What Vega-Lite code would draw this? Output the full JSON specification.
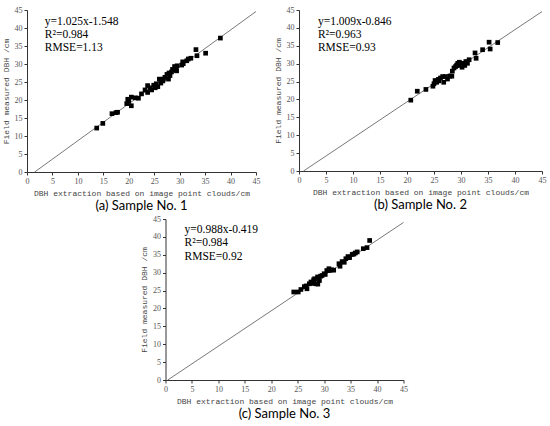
{
  "$schema": "https://vega.github.io/schema/vega-lite/v6.json",
  "padding": {"left": 2, "top": 6, "right": 4, "bottom": 0},
  "background": "white",
  "datasets": {
    "pts": [
      {"s":"a","x":13.7,"y":12.2},{"s":"a","x":14.9,"y":13.5},{"s":"a","x":16.7,"y":16.2},{"s":"a","x":17.5,"y":16.5},{"s":"a","x":17.8,"y":16.6},
      {"s":"a","x":19.6,"y":19.0},{"s":"a","x":19.8,"y":20.2},{"s":"a","x":20.5,"y":18.4},{"s":"a","x":20.5,"y":20.8},{"s":"a","x":21.3,"y":20.6},
      {"s":"a","x":21.9,"y":20.5},{"s":"a","x":22.5,"y":21.7},{"s":"a","x":23.2,"y":22.8},{"s":"a","x":23.7,"y":22.1},{"s":"a","x":23.7,"y":24.0},
      {"s":"a","x":24.2,"y":23.4},{"s":"a","x":24.5,"y":22.8},{"s":"a","x":24.9,"y":24.1},{"s":"a","x":25.2,"y":23.4},{"s":"a","x":25.4,"y":24.5},
      {"s":"a","x":25.7,"y":23.7},{"s":"a","x":26.0,"y":25.8},{"s":"a","x":26.3,"y":24.7},{"s":"a","x":26.7,"y":25.3},{"s":"a","x":27.1,"y":26.3},
      {"s":"a","x":27.5,"y":27.1},{"s":"a","x":27.8,"y":25.8},{"s":"a","x":27.9,"y":27.5},{"s":"a","x":28.4,"y":27.8},{"s":"a","x":28.6,"y":28.5},
      {"s":"a","x":29.0,"y":29.3},{"s":"a","x":29.1,"y":28.3},{"s":"a","x":29.3,"y":28.8},{"s":"a","x":29.5,"y":29.5},{"s":"a","x":30.4,"y":29.7},
      {"s":"a","x":30.6,"y":30.6},{"s":"a","x":31.4,"y":30.9},{"s":"a","x":31.7,"y":31.4},{"s":"a","x":32.2,"y":31.6},{"s":"a","x":33.2,"y":34.0},
      {"s":"a","x":33.4,"y":32.3},{"s":"a","x":35.1,"y":33.0},{"s":"a","x":38.0,"y":37.2},{"s":"a","x":26.8,"y":25.8},{"s":"a","x":28.1,"y":26.8},
      {"s":"a","x":29.4,"y":28.1},{"s":"a","x":30.7,"y":30.1},{"s":"a","x":20.0,"y":19.6},
      {"s":"b","x":20.7,"y":19.8},{"s":"b","x":21.9,"y":22.3},{"s":"b","x":23.5,"y":22.8},{"s":"b","x":24.8,"y":23.7},{"s":"b","x":25.0,"y":24.4},
      {"s":"b","x":25.2,"y":25.3},{"s":"b","x":25.5,"y":24.8},{"s":"b","x":25.8,"y":25.6},{"s":"b","x":26.2,"y":26.0},{"s":"b","x":26.6,"y":26.4},
      {"s":"b","x":26.8,"y":24.8},{"s":"b","x":27.1,"y":26.4},{"s":"b","x":27.5,"y":25.7},{"s":"b","x":27.9,"y":26.5},{"s":"b","x":28.3,"y":26.5},
      {"s":"b","x":28.4,"y":27.9},{"s":"b","x":28.7,"y":28.8},{"s":"b","x":29.0,"y":29.2},{"s":"b","x":29.4,"y":30.1},{"s":"b","x":29.7,"y":30.4},
      {"s":"b","x":29.8,"y":29.5},{"s":"b","x":30.2,"y":29.0},{"s":"b","x":30.4,"y":30.1},{"s":"b","x":30.7,"y":29.5},{"s":"b","x":30.9,"y":30.6},
      {"s":"b","x":31.2,"y":30.1},{"s":"b","x":31.5,"y":31.1},{"s":"b","x":32.6,"y":33.0},{"s":"b","x":32.8,"y":31.5},{"s":"b","x":34.0,"y":33.9},
      {"s":"b","x":35.2,"y":36.0},{"s":"b","x":35.4,"y":34.1},{"s":"b","x":36.8,"y":35.9},{"s":"b","x":25.9,"y":25.2},{"s":"b","x":29.2,"y":29.6},
      {"s":"c","x":24.25,"y":24.6},{"s":"c","x":25.1,"y":24.6},{"s":"c","x":25.6,"y":25.3},{"s":"c","x":26.25,"y":26.1},{"s":"c","x":26.75,"y":25.5},
      {"s":"c","x":27.2,"y":26.9},{"s":"c","x":27.5,"y":27.4},{"s":"c","x":28.0,"y":28.0},{"s":"c","x":28.4,"y":26.9},{"s":"c","x":28.75,"y":28.8},
      {"s":"c","x":29.1,"y":27.8},{"s":"c","x":29.6,"y":29.2},{"s":"c","x":30.0,"y":29.7},{"s":"c","x":30.5,"y":30.6},{"s":"c","x":30.9,"y":31.1},
      {"s":"c","x":31.4,"y":30.8},{"s":"c","x":32.8,"y":32.5},{"s":"c","x":33.4,"y":33.1},{"s":"c","x":34.1,"y":33.9},{"s":"c","x":34.5,"y":34.5},
      {"s":"c","x":35.3,"y":35.1},{"s":"c","x":35.9,"y":35.5},{"s":"c","x":36.25,"y":35.8},{"s":"c","x":37.4,"y":36.7},{"s":"c","x":38.1,"y":37.0},
      {"s":"c","x":38.6,"y":39.0},{"s":"c","x":28.2,"y":28.3},{"s":"c","x":29.3,"y":29.0},{"s":"c","x":30.2,"y":29.5},{"s":"c","x":31.0,"y":30.6},
      {"s":"c","x":31.8,"y":30.7},{"s":"c","x":33.0,"y":31.8},{"s":"c","x":33.8,"y":32.9},{"s":"c","x":34.8,"y":34.2},{"s":"c","x":35.6,"y":35.2},
      {"s":"c","x":26.6,"y":26.3},{"s":"c","x":27.8,"y":27.0},{"s":"c","x":28.8,"y":26.8}
    ],
    "fit": [
      {"s":"a","x":1.51,"y":0},{"s":"a","x":45,"y":44.58},
      {"s":"b","x":0.84,"y":0},{"s":"b","x":45,"y":44.56},
      {"s":"c","x":0.42,"y":0},{"s":"c","x":45,"y":44.04}
    ],
    "ann": [
      {"s":"a","x":3.5,"y":41.6,"t":"y=1.025x-1.548"},{"s":"a","x":3.5,"y":38.0,"t":"R²=0.984"},{"s":"a","x":3.5,"y":34.5,"t":"RMSE=1.13"},
      {"s":"b","x":3.5,"y":41.6,"t":"y=1.009x-0.846"},{"s":"b","x":3.5,"y":38.0,"t":"R²=0.963"},{"s":"b","x":3.5,"y":34.5,"t":"RMSE=0.93"},
      {"s":"c","x":3.6,"y":41.9,"t":"y=0.988x-0.419"},{"s":"c","x":3.6,"y":38.2,"t":"R²=0.984"},{"s":"c","x":3.6,"y":34.4,"t":"RMSE=0.92"}
    ]
  },
  "config": {
    "view": {"stroke": null},
    "axis": {
      "grid": false, "domainColor": "#333", "tickColor": "#333", "tickSize": 3,
      "labelFont": "Liberation Serif", "labelFontSize": 8, "labelColor": "#555", "labelPadding": 2,
      "labelOverlap": false, "labelBound": false, "labelFlush": false,
      "titleFont": "Liberation Mono", "titleFontSize": 8, "titleFontWeight": "normal", "titleColor": "#444", "titlePadding": 4
    },
    "title": {"font": "Lato", "fontSize": 13, "fontWeight": "normal", "color": "black", "orient": "bottom", "offset": 3}
  },
  "center": true,
  "spacing": 2,
  "vconcat": [
    {
      "spacing": 14,
      "hconcat": [
        {
          "width": 229, "height": 162,
          "title": "(a) Sample No. 1",
          "encoding": {
            "x": {"field": "x", "type": "quantitative", "scale": {"domain": [0,45], "nice": false}, "axis": {"values": [0,5,10,15,20,25,30,35,40,45], "title": "DBH extraction based on image point clouds/cm"}},
            "y": {"field": "y", "type": "quantitative", "scale": {"domain": [0,45], "nice": false}, "axis": {"values": [0,5,10,15,20,25,30,35,40,45], "title": "Field measured DBH /cm"}}
          },
          "layer": [
            {"data": {"name": "fit"}, "transform": [{"filter": "datum.s==='a'"}], "mark": {"type": "line", "color": "#555", "strokeWidth": 0.8}},
            {"data": {"name": "pts"}, "transform": [{"filter": "datum.s==='a'"}], "mark": {"type": "point", "shape": "square", "filled": true, "color": "black", "opacity": 1, "size": 22}},
            {"data": {"name": "ann"}, "transform": [{"filter": "datum.s==='a'"}], "mark": {"type": "text", "align": "left", "baseline": "middle", "font": "Liberation Serif", "fontSize": 11.5, "color": "black"},
             "encoding": {"text": {"field": "t"}}}
          ]
        },
        {
          "width": 243, "height": 161,
          "title": "(b) Sample No. 2",
          "encoding": {
            "x": {"field": "x", "type": "quantitative", "scale": {"domain": [0,45], "nice": false}, "axis": {"values": [0,5,10,15,20,25,30,35,40,45], "title": "DBH extraction based on image point clouds/cm"}},
            "y": {"field": "y", "type": "quantitative", "scale": {"domain": [0,45], "nice": false}, "axis": {"values": [0,5,10,15,20,25,30,35,40,45], "title": "Field measured DBH /cm"}}
          },
          "layer": [
            {"data": {"name": "fit"}, "transform": [{"filter": "datum.s==='b'"}], "mark": {"type": "line", "color": "#555", "strokeWidth": 0.8}},
            {"data": {"name": "pts"}, "transform": [{"filter": "datum.s==='b'"}], "mark": {"type": "point", "shape": "square", "filled": true, "color": "black", "opacity": 1, "size": 22}},
            {"data": {"name": "ann"}, "transform": [{"filter": "datum.s==='b'"}], "mark": {"type": "text", "align": "left", "baseline": "middle", "font": "Liberation Serif", "fontSize": 11.5, "color": "black"},
             "encoding": {"text": {"field": "t"}}}
          ]
        }
      ]
    },
    {
      "width": 238, "height": 161,
      "title": "(c) Sample No. 3",
      "encoding": {
        "x": {"field": "x", "type": "quantitative", "scale": {"domain": [0,45], "nice": false}, "axis": {"values": [0,5,10,15,20,25,30,35,40,45], "title": "DBH extraction based on image point clouds/cm"}},
        "y": {"field": "y", "type": "quantitative", "scale": {"domain": [0,45], "nice": false}, "axis": {"values": [0,5,10,15,20,25,30,35,40,45], "title": "Field measured DBH /cm"}}
      },
      "layer": [
        {"data": {"name": "fit"}, "transform": [{"filter": "datum.s==='c'"}], "mark": {"type": "line", "color": "#555", "strokeWidth": 0.8}},
        {"data": {"name": "pts"}, "transform": [{"filter": "datum.s==='c'"}], "mark": {"type": "point", "shape": "square", "filled": true, "color": "black", "opacity": 1, "size": 22}},
        {"data": {"name": "ann"}, "transform": [{"filter": "datum.s==='c'"}], "mark": {"type": "text", "align": "left", "baseline": "middle", "font": "Liberation Serif", "fontSize": 11.5, "color": "black"},
         "encoding": {"text": {"field": "t"}}}
      ]
    }
  ]
}
